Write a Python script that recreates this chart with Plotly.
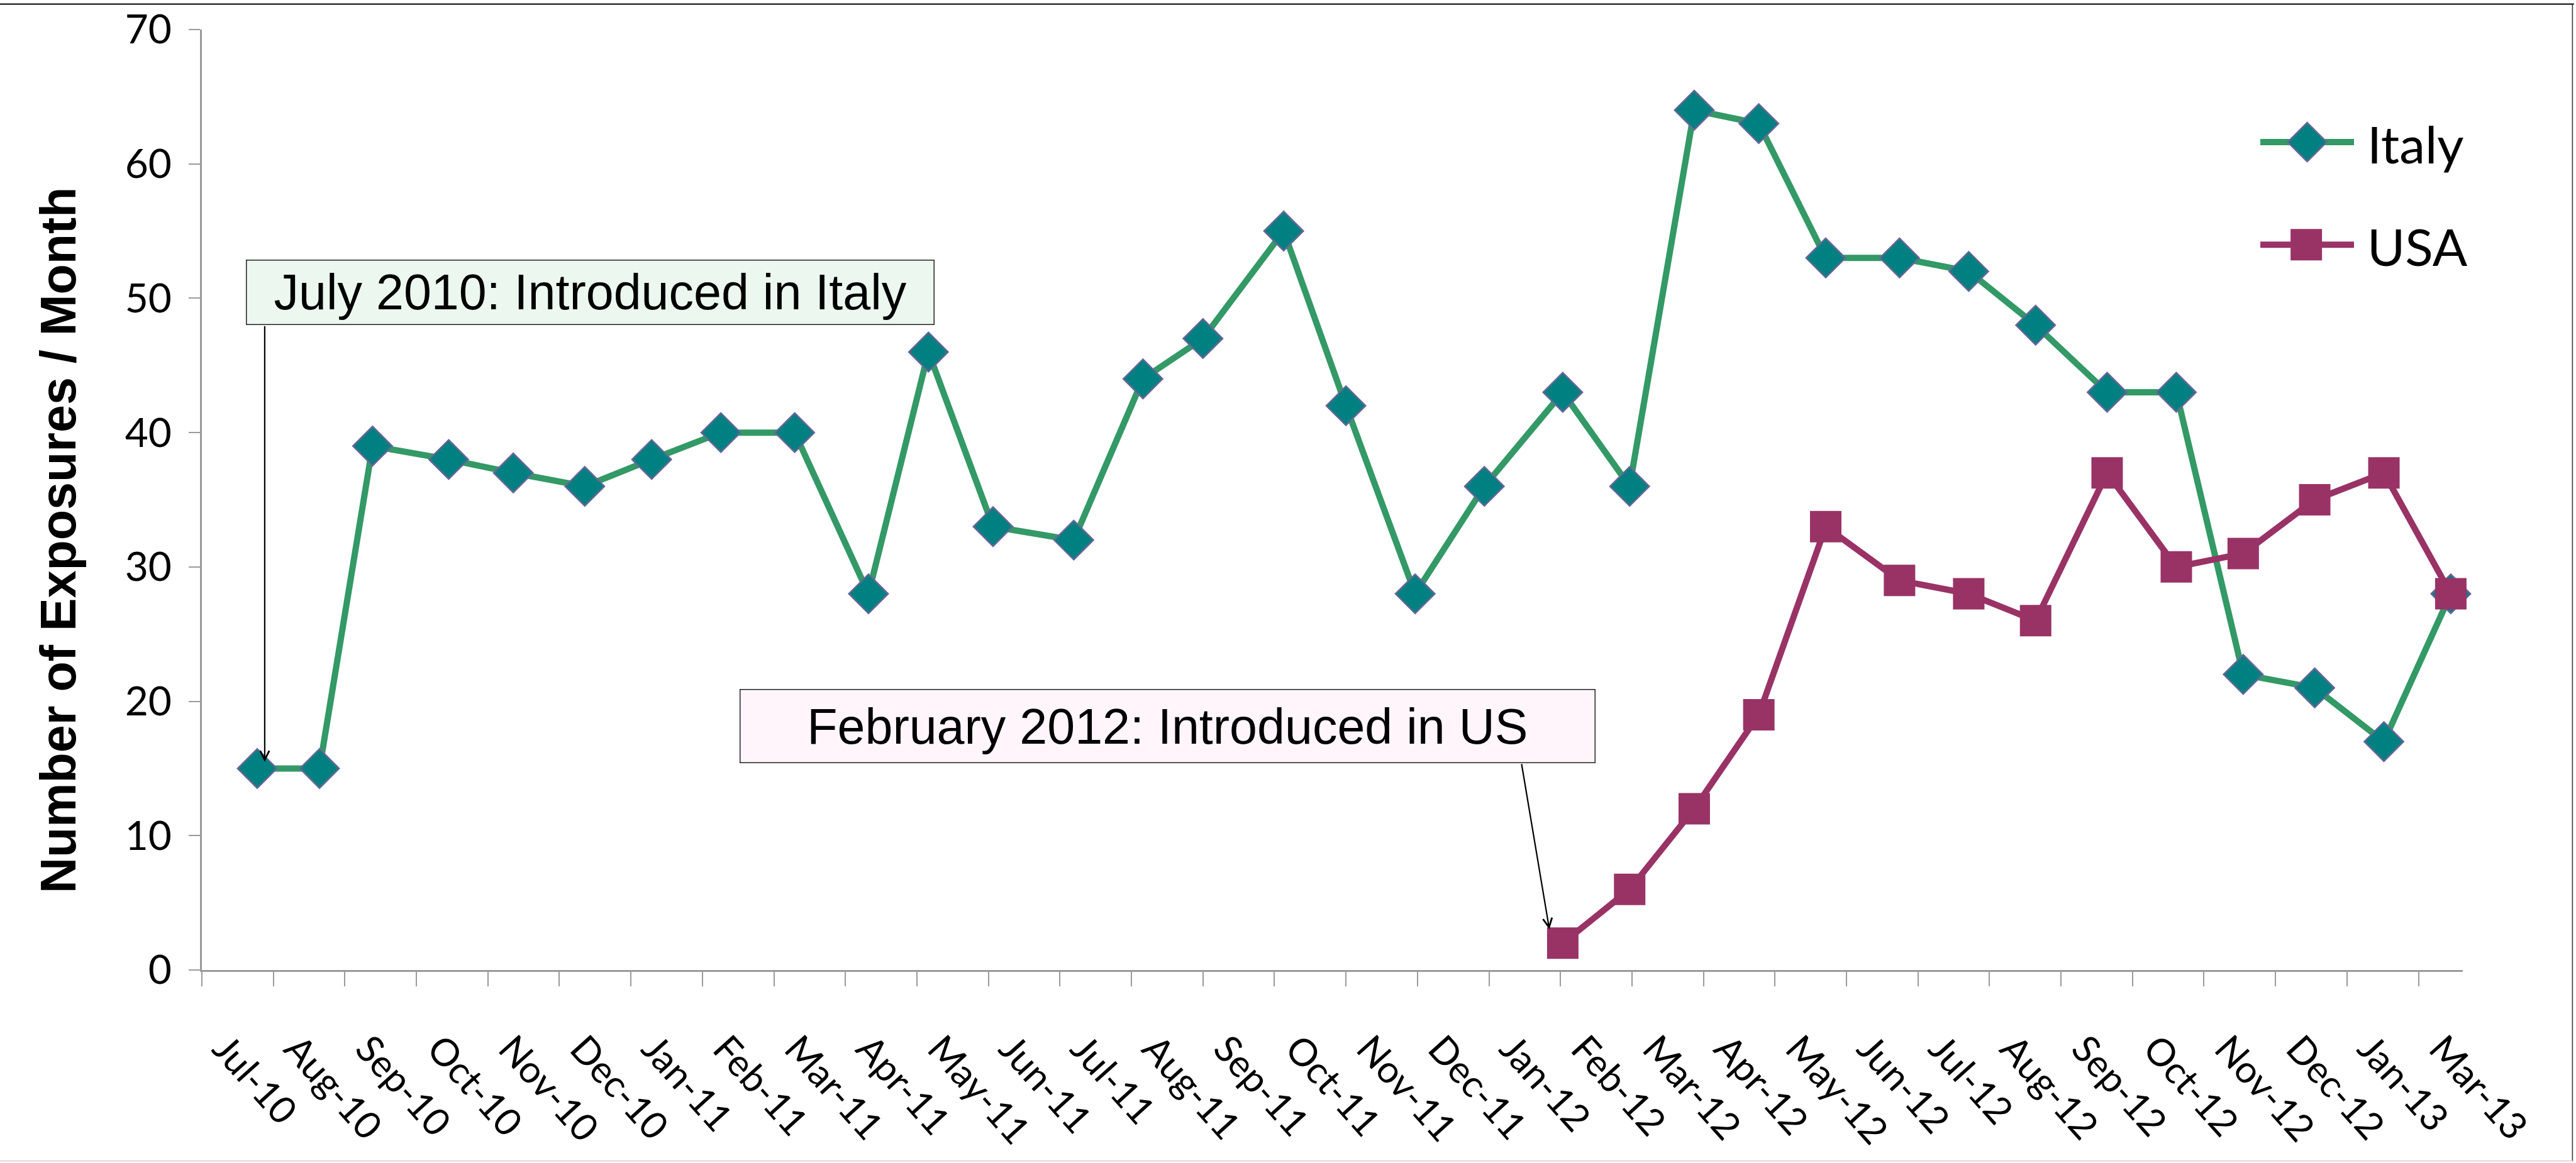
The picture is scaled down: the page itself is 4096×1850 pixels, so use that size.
import plotly.graph_objects as go
from datetime import datetime, timedelta

# ---------------- data ----------------
tick_labels = ["Jul-10", "Aug-10", "Sep-10", "Oct-10", "Nov-10", "Dec-10",
               "Jan-11", "Feb-11", "Mar-11", "Apr-11", "May-11", "Jun-11",
               "Jul-11", "Aug-11", "Sep-11", "Oct-11", "Nov-11", "Dec-11",
               "Jan-12", "Feb-12", "Mar-12", "Apr-12", "May-12", "Jun-12",
               "Jul-12", "Aug-12", "Sep-12", "Oct-12", "Nov-12", "Dec-12",
               "Jan-13", "Mar-13"]

point_dates = ["2010-08-08", "2010-09-04", "2010-09-27", "2010-10-30", "2010-11-27",
               "2010-12-28", "2011-01-26", "2011-02-25", "2011-03-29", "2011-04-30",
               "2011-05-26", "2011-06-23", "2011-07-28", "2011-08-27", "2011-09-22",
               "2011-10-27", "2011-11-23", "2011-12-23", "2012-01-22", "2012-02-25",
               "2012-03-25", "2012-04-22", "2012-05-20", "2012-06-18", "2012-07-20",
               "2012-08-19", "2012-09-17", "2012-10-18", "2012-11-17", "2012-12-16",
               "2013-01-16", "2013-02-15", "2013-03-16"]

italy = [15, 15, 39, 38, 37, 36, 38, 40, 40, 28, 46, 33, 32, 44, 47, 55, 42, 28,
         36, 43, 36, 64, 63, 53, 53, 52, 48, 43, 43, 22, 21, 17, 28]

usa_dates = point_dates[19:]
usa = [2, 6, 12, 19, 33, 29, 28, 26, 37, 30, 31, 35, 37, 28]

y_ticks = [0, 10, 20, 30, 40, 50, 60, 70]

# ---------------- geometry ----------------
W, H = 4096, 1850
S = 0.925                      # reference -> output scale
L, R = 347 * S, 4233 * S       # plot area (output px)
T, B = 50.7 * S, 1668 * S
PW, PH = R - L, B - T


def px(xr):  # reference x pixel -> paper
    return (xr * S - L) / PW


def py(yr):  # reference y pixel -> paper
    return (B - yr * S) / PH


tick0 = datetime(2010, 7, 15)
tickvals = [tick0 + timedelta(days=31 * k) for k in range(len(tick_labels))]
x_range = [tick0, tick0 + timedelta(days=980.2)]

GREEN = "#339966"
TEAL = "#008080"
EDGE = "#666699"
PLUM = "#993366"
AXIS = "#9a9a9a"
TICKFONT = "Lato, Open Sans, sans-serif"
ARIAL = "Liberation Sans, Arial, sans-serif"
LW = 10

fig = go.Figure()
fig.add_trace(go.Scatter(
    x=point_dates, y=italy, name="Italy", mode="lines+markers",
    line=dict(color=GREEN, width=LW),
    marker=dict(symbol="diamond", size=48, color=TEAL, line=dict(color=EDGE, width=2.5)),
    cliponaxis=False))
fig.add_trace(go.Scatter(
    x=usa_dates, y=usa, name="USA", mode="lines+markers",
    line=dict(color=PLUM, width=LW),
    marker=dict(symbol="square", size=50, color=PLUM, line=dict(width=0)),
    cliponaxis=False))

annotations = []
shapes = []

# arrows
annotations.append(dict(xref="paper", yref="paper", x=px(455), y=py(1310), text="",
                        showarrow=True, axref="pixel", ayref="pixel",
                        ax=0, ay=(559 - 1310) * S, arrowhead=5, arrowsize=1.3,
                        arrowwidth=2.2, arrowcolor="#000000"))
annotations.append(dict(xref="paper", yref="paper", x=px(2663), y=py(1598), text="",
                        showarrow=True, axref="pixel", ayref="pixel",
                        ax=(2615 - 2663) * S, ay=(1312 - 1598) * S, arrowhead=5,
                        arrowsize=1.3, arrowwidth=2.2, arrowcolor="#000000"))

# text boxes
bw = 1.5
annotations.append(dict(xref="paper", yref="paper", x=px(1015), y=py(503),
                        xanchor="center", yanchor="middle", showarrow=False,
                        text="July 2010: Introduced in Italy",
                        font=dict(family=ARIAL, size=79, color="#000000"),
                        width=(1607 - 423) * S - 2 * bw, height=112 * S - 2 * bw,
                        bgcolor="#EBF7EF", bordercolor="#222222", borderwidth=bw,
                        borderpad=0, align="center", valign="middle"))
annotations.append(dict(xref="paper", yref="paper", x=px(2006.5), y=py(1248),
                        xanchor="center", yanchor="middle", showarrow=False,
                        text="February 2012: Introduced in US",
                        font=dict(family=ARIAL, size=79, color="#000000"),
                        width=(2742 - 1271) * S - 2 * bw, height=128 * S - 2 * bw,
                        bgcolor="#FFF5FA", bordercolor="#222222", borderwidth=bw,
                        borderpad=0, align="center", valign="middle"))

# y-axis title
annotations.append(dict(xref="paper", yref="paper", x=px(100), y=py(928),
                        xanchor="center", yanchor="middle", showarrow=False,
                        textangle=-90, text="<b>Number of Exposures / Month</b>",
                        font=dict(family=ARIAL, size=79, color="#000000")))

# custom legend
leg_x0, leg_x1 = 3885, 4046
leg_cx = 3965.5
for name, yref_px, col in [("Italy", 244.3, GREEN), ("USA", 420.7, PLUM)]:
    shapes.append(dict(type="line", xref="paper", yref="paper",
                       x0=px(leg_x0), x1=px(leg_x1), y0=py(yref_px), y1=py(yref_px),
                       line=dict(color=col, width=LW)))
    annotations.append(dict(xref="paper", yref="paper", x=px(4066), y=py(yref_px + 2),
                            xanchor="left", yanchor="middle", showarrow=False,
                            text=name, font=dict(family=TICKFONT, size=82, color="#000000")))

cx, cy = px(leg_cx), py(244.3)
hx, hy = 31 / PW, 31 / PH
shapes.append(dict(type="path", xref="paper", yref="paper",
                   path=f"M {cx - hx} {cy} L {cx} {cy + hy} L {cx + hx} {cy} L {cx} {cy - hy} Z",
                   fillcolor=TEAL, line=dict(color=EDGE, width=2.5)))
cx, cy = px(3964), py(420.7)
hx, hy = 25 / PW, 25 / PH
shapes.append(dict(type="rect", xref="paper", yref="paper",
                   x0=cx - hx, x1=cx + hx, y0=cy - hy, y1=cy + hy,
                   fillcolor=PLUM, line=dict(width=0)))

# chart frame
shapes.append(dict(type="line", xref="paper", yref="paper", x0=px(0), x1=px(4424),
                   y0=py(7), y1=py(7), line=dict(color="#000000", width=2)))
shapes.append(dict(type="line", xref="paper", yref="paper", x0=px(4421.5), x1=px(4421.5),
                   y0=py(7), y1=py(1997), line=dict(color="#333333", width=1.5)))
shapes.append(dict(type="line", xref="paper", yref="paper", x0=px(0), x1=px(4424),
                   y0=py(1996.5), y1=py(1996.5), line=dict(color="#d0d0d0", width=1.5)))

fig.update_layout(
    width=W, height=H,
    margin=dict(l=L, r=W - R, t=T, b=H - B, autoexpand=False),
    paper_bgcolor="#ffffff", plot_bgcolor="#ffffff",
    showlegend=False,
    annotations=annotations, shapes=shapes,
    xaxis=dict(type="date", range=x_range, tickmode="array", tickvals=tickvals,
               ticktext=tick_labels, tickangle=48, ticks="outside", ticklen=23,
               tickwidth=2, tickcolor=AXIS, showline=True, linecolor=AXIS, linewidth=2.5,
               showgrid=False, zeroline=False, ticklabelstandoff=40, ticklabelshift=36,
               tickfont=dict(family=TICKFONT, size=60, color="#000000")),
    yaxis=dict(range=[0, 70], tickmode="array", tickvals=y_ticks, ticks="outside",
               ticklen=18.5, tickwidth=2, tickcolor=AXIS, showline=True, linecolor=AXIS,
               linewidth=2.5, showgrid=False, zeroline=False, ticklabelstandoff=14,
               tickfont=dict(family=TICKFONT, size=64, color="#000000")),
)

fig.write_html("out.html")
